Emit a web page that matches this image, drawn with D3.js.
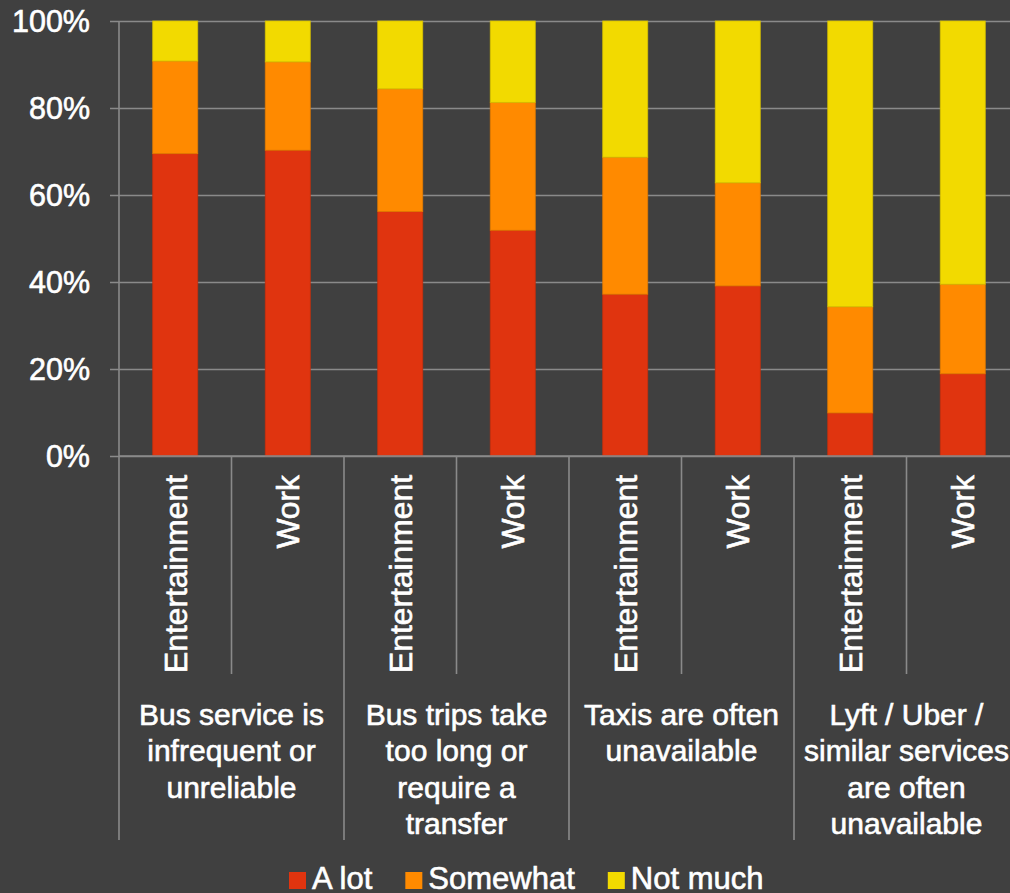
<!DOCTYPE html>
<html>
<head>
<meta charset="utf-8">
<script src="https://cdn.jsdelivr.net/npm/d3@7"></script>
<style>
  html, body { margin: 0; padding: 0; background: #404040; }
  svg { display: block; }
  text { font-family: "Liberation Sans", Arial, sans-serif; fill: #ffffff; stroke: #ffffff; stroke-width: 0.6px; }
</style>
</head>
<body>
<svg id="chart" width="1010" height="893"></svg>
<script>
// Reasons people give for not using transit, by trip purpose
const groups = [
  ["Bus service is", "infrequent or", "unreliable"],
  ["Bus trips take", "too long or", "require a", "transfer"],
  ["Taxis are often", "unavailable"],
  ["Lyft / Uber /", "similar services", "are often", "unavailable"]
];
const purposes = ["Entertainment", "Work"];
const seriesNames = ["A lot", "Somewhat", "Not much"];
const seriesColors = ["#E0340F", "#FF8A00", "#F2DA00"];

// shares (%) per bar, ordered group by group, Entertainment then Work
const aLot     = [69.5, 70.3, 56.2, 51.9, 37.2, 39.1,  9.9, 18.9];
const somewhat = [21.3, 20.3, 28.2, 29.4, 31.5, 23.7, 24.4, 20.6];
const notMuch  = [ 9.2,  9.4, 15.6, 18.7, 31.3, 37.2, 65.7, 60.5];

const yTicks = [0, 0.2, 0.4, 0.6, 0.8, 1.0];

// table for d3.stack
const rows = [];
groups.forEach((g, gi) => {
  purposes.forEach((p, pi) => {
    const i = gi * purposes.length + pi;
    rows.push({
      key: gi + "-" + p,
      group: gi,
      purpose: p,
      "A lot": aLot[i] / 100,
      "Somewhat": somewhat[i] / 100,
      "Not much": notMuch[i] / 100
    });
  });
});

const svg = d3.select("#chart");
const plotLeft = 119, plotRight = 1019, plotTop = 21, plotBottom = 456;

const x = d3.scaleBand()
  .domain(rows.map(d => d.key))
  .range([plotLeft, plotRight])
  .paddingInner(0.6)
  .paddingOuter(0.3);
const step = x.step();

const y = d3.scaleLinear().domain([0, 1]).range([plotBottom, plotTop]);

// gridlines + y labels
const yAxis = d3.axisLeft(y)
  .tickValues(yTicks)
  .tickFormat(d3.format(".0%"))
  .tickSize(0)
  .tickPadding(0);

const ya = svg.append("g")
  .attr("transform", `translate(${plotLeft - 9},0)`)
  .call(yAxis);
ya.select(".domain").remove();
ya.selectAll(".tick line")
  .attr("x1", 0)
  .attr("x2", plotRight - plotLeft + 20)
  .attr("stroke", "#8a8a8a")
  .attr("stroke-width", 1.6);
ya.selectAll(".tick text")
  .attr("x", -20)
  .attr("dy", "0.35em")
  .style("font-size", "30.5px")
  .style("font-family", "'Liberation Sans', Arial, sans-serif")
  .attr("fill", "#ffffff");

// stacked bars
const stack = d3.stack().keys(seriesNames);
const layers = stack(rows);

svg.append("g")
  .selectAll("g")
  .data(layers)
  .join("g")
  .attr("fill", (d, i) => seriesColors[i])
  .attr("stroke", (d, i) => d3.color(seriesColors[i]).darker(0.35))
  .attr("stroke-width", 0.8)
  .selectAll("rect")
  .data(d => d)
  .join("rect")
  .attr("x", d => x(d.data.key))
  .attr("width", x.bandwidth())
  .attr("y", d => y(d[1]))
  .attr("height", d => y(d[0]) - y(d[1]));

// axis lines
const axisColor = "#8a8a8a";
const ax = svg.append("g").attr("stroke", axisColor).attr("stroke-width", 1.6);
ax.append("line").attr("x1", plotLeft).attr("x2", plotLeft).attr("y1", plotTop).attr("y2", plotBottom);
ax.append("line").attr("x1", plotLeft).attr("x2", plotRight).attr("y1", plotBottom).attr("y2", plotBottom);

// separators between bars inside a group and between groups
const groupBottom = 840, innerBottom = 674;
groups.forEach((g, gi) => {
  const gx = plotLeft + gi * step * purposes.length;
  ax.append("line").attr("x1", gx).attr("x2", gx).attr("y1", plotBottom).attr("y2", groupBottom);
  for (let k = 1; k < purposes.length; k++) {
    const sx = gx + k * step;
    ax.append("line").attr("x1", sx).attr("x2", sx).attr("y1", plotBottom).attr("y2", innerBottom);
  }
});

// rotated purpose labels
svg.append("g")
  .selectAll("text")
  .data(rows)
  .join("text")
  .attr("transform", d => `translate(${x(d.key) + x.bandwidth() / 2 + 11.5},${plotBottom + 19}) rotate(-90)`)
  .attr("text-anchor", "end")
  .style("font-size", "31.8px")
  .text(d => d.purpose);

// group labels
const gl = svg.append("g");
groups.forEach((lines, gi) => {
  const cx = plotLeft + (gi + 0.5) * step * purposes.length;
  const t = gl.append("text")
    .attr("text-anchor", "middle")
    .style("font-size", "30px");
  lines.forEach((ln, li) => {
    t.append("tspan")
      .attr("x", cx)
      .attr("y", 725 + li * 36.3)
      .text(ln);
  });
});

// legend
const legend = svg.append("g");
let lx = 289;
seriesNames.forEach((name, i) => {
  legend.append("rect")
    .attr("x", lx).attr("y", 872)
    .attr("width", 17).attr("height", 17)
    .attr("fill", seriesColors[i]);
  const t = legend.append("text")
    .attr("x", lx + 23).attr("y", 889)
    .style("font-size", "31px")
    .text(name);
  lx += 23 + t.node().getComputedTextLength() + 33;
});
</script>
</body>
</html>
